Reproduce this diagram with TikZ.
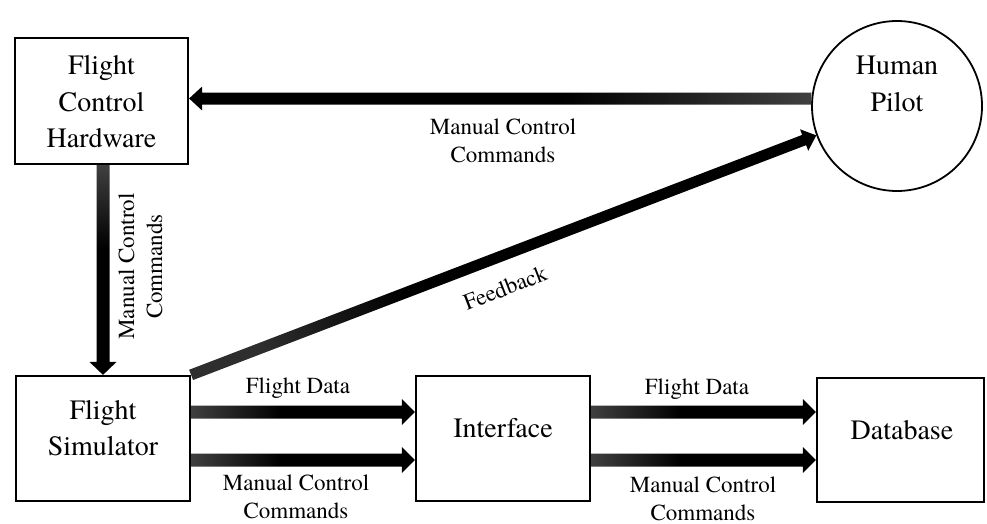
\documentclass[tikz,border=0pt]{standalone}
\usepackage{fontspec}
\setmainfont{texgyretermes}[Extension=.otf, UprightFont=*-regular, BoldFont=*-bold, ItalicFont=*-italic, BoldItalicFont=*-bolditalic]
\newfontfamily\tnr{texgyretermes}[Extension=.otf, UprightFont=*-regular]
\usetikzlibrary{calc}
\pgfdeclarehorizontalshading{arrgrad}{100bp}{color(0bp)=(black!75); color(25bp)=(black!75); color(45bp)=(black); color(100bp)=(black)}
\pgfdeclarehorizontalshading{arrgradb}{100bp}{color(0bp)=(black!82); color(25bp)=(black!82); color(40bp)=(black); color(100bp)=(black)}
% #1 shading, #2 start, #3 end, #4 shaft half width, #5 head half width
\newcommand{\blockarrow}[5]{%
  \coordinate (ba-s) at (#2);
  \coordinate (ba-e) at (#3);
  \coordinate (ba-h) at ($(ba-e)!13pt!(ba-s)$);
  \shade[#1]
    ($(ba-s)!#4pt!90:(ba-e)$) -- ($(ba-h)!#4pt!90:(ba-e)$) --
    ($(ba-h)!#5pt!90:(ba-e)$) -- (ba-e) --
    ($(ba-h)!#5pt!-90:(ba-e)$) -- ($(ba-h)!#4pt!-90:(ba-e)$) --
    ($(ba-s)!#4pt!-90:(ba-e)$) -- cycle;
}
\begin{document}
\begin{tikzpicture}[x=1pt,y=-1pt,
  box/.style={draw, line width=2.2pt, inner sep=0pt},
  btxt/.style={font=\tnr\fontsize{28}{36.5}\selectfont, align=center, inner sep=0pt},
  lbl/.style={font=\tnr\fontsize{23}{28}\selectfont, align=center, inner sep=0pt},
  grad/.style={shading=arrgrad, shading angle=#1},
  gradb/.style={shading=arrgradb, shading angle=#1}]
\useasboundingbox (0,0) rectangle (987,524);

% boxes
\node[box, minimum width=173pt, minimum height=126pt] (hw) at (101.5,101) {};
\node[box, minimum width=174pt, minimum height=125pt] (sim) at (103,438.5) {};
\node[box, minimum width=174pt, minimum height=125pt] (iface) at (503,438.5) {};
\node[box, minimum width=167pt, minimum height=124pt] (db) at (900.5,440) {};
\node[draw, circle, line width=1.8pt, minimum size=170pt, inner sep=0pt] (pilot) at (897,106) {};

% box texts
\node[btxt] (hw-t) at (101.5,102) {Flight\\Control\\Hardware};
\node[btxt] (sim-t) at (103,428) {Flight\\Simulator};
\node[btxt, anchor=base] (iface-t) at (503,437) {Interface};
\node[btxt, anchor=base] (db-t) at (902,439) {Database};
\node[btxt] (pilot-t) at (897,84) {Human\\Pilot};

% rows for the data arrows
\coordinate (r1) at (0,412);
\coordinate (r2) at (0,460);

% arrows
\blockarrow{grad=180}{pilot.175}{hw.east |- pilot.175}{6}{12}
\blockarrow{grad=-90}{sim.north |- hw.south}{sim.north}{6.5}{13.5}
\blockarrow{gradb=21}{sim.north east}{pilot.200}{5.5}{11.5}
\blockarrow{grad=0}{sim.east |- r1}{iface.west |- r1}{6.5}{13}
\blockarrow{grad=0}{sim.east |- r2}{iface.west |- r2}{6.5}{13}
\blockarrow{grad=0}{iface.east |- r1}{db.west |- r1}{6.5}{13}
\blockarrow{grad=0}{iface.east |- r2}{db.west |- r2}{6.5}{13}

% labels
\node[lbl] (l-top) at (503,141) {Manual Control\\Commands};
\node[lbl, rotate=90] (l-vert) at (140.5,266.5) {Manual Control\\Commands};
\node[lbl, rotate=21] (l-fb) at (505,288) {Feedback};
\node[lbl, anchor=base] (l-fd1) at (298,393) {Flight Data};
\node[lbl, anchor=base] (l-fd2) at (697,394) {Flight Data};
\node[lbl] (l-mc1) at (296,497) {Manual Control\\Commands};
\node[lbl] (l-mc2) at (703,499) {Manual Control\\Commands};
\end{tikzpicture}
\end{document}
